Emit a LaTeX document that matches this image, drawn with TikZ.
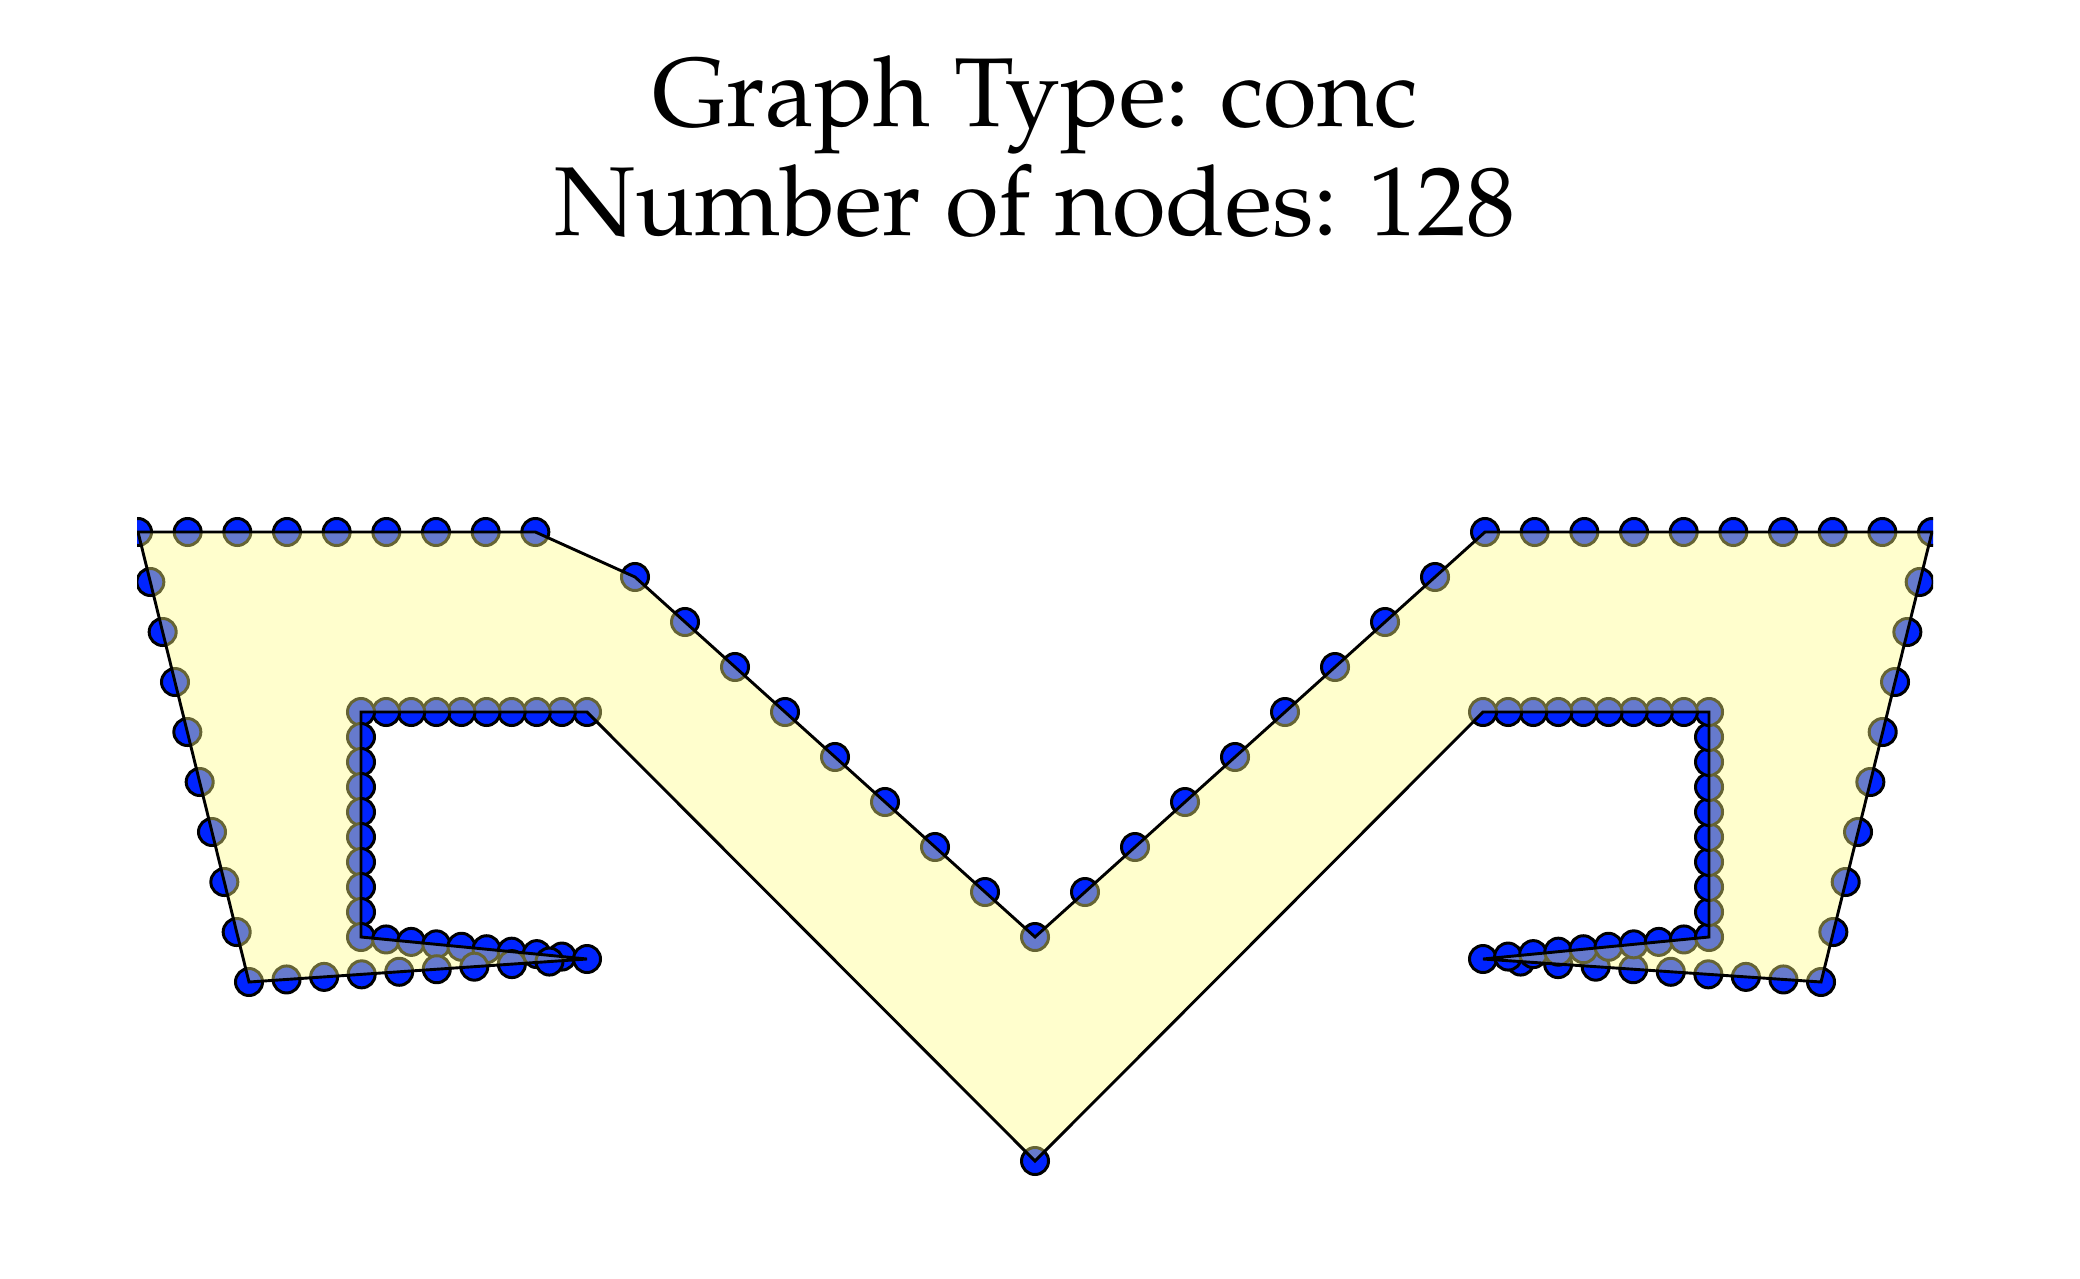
\documentclass[tikz,border=0pt]{standalone}
\usepackage[T1]{fontenc}
\usepackage{mathpazo}
\usetikzlibrary{calc}
\definecolor{nodeblue}{RGB}{0,36,255}
\definecolor{shapefill}{RGB}{255,252,130}
\newcounter{ptc}
\newcommand\subdiv[4]{%
  \foreach \i in {1,...,#4}{%
    \stepcounter{ptc}%
    \edef\pname{p\arabic{ptc}}%
    \coordinate (\pname) at ($(#1)!\i/#3!(#2)$);%
  }}
\tikzset{
  gnode/.style={circle, draw=black, line width=1.5pt, fill=nodeblue, minimum size=13.5pt, inner sep=0pt},
  shapearea/.style={fill=shapefill, fill opacity=0.4},
  outline/.style={draw=black, line width=1.45pt, line join=miter},
  titletext/.style={font=\fontsize{48.9}{58}\selectfont, inner sep=0pt, anchor=base}
}
\begin{document}
\begin{tikzpicture}[x=0.5pt, y=-0.5pt]
\useasboundingbox (0,0) rectangle (2080,1278);
% key points of the outline
\coordinate (A) at (138,532);
\coordinate (K) at (585,532);
\coordinate (Vt) at (1035,937);
\coordinate (KR) at (1485,532);
\coordinate (TR) at (1932,532);
\coordinate (BR) at (1821,982);
\coordinate (tipR) at (1483,959);
\coordinate (IRL) at (1709,937);
\coordinate (IRU) at (1709,712);
\coordinate (IRT) at (1483,712);
\coordinate (Vb) at (1035,1161);
\coordinate (ILT) at (587,712);
\coordinate (ILU) at (361,712);
\coordinate (ILL) at (361,937);
\coordinate (tipL) at (587,959);
\coordinate (BL) at (249,982);
% node positions along the outline
\stepcounter{ptc}\coordinate (p1) at (A);
\subdiv{A}{K}{9}{8}
\subdiv{K}{Vt}{9}{9}
\subdiv{Vt}{KR}{9}{9}
\subdiv{KR}{TR}{9}{9}
\subdiv{TR}{BR}{9}{9}
\subdiv{BR}{tipR}{9}{9}
\subdiv{tipR}{IRL}{9}{9}
\subdiv{IRL}{IRU}{9}{9}
\subdiv{IRU}{IRT}{9}{9}
\subdiv{IRT}{Vb}{1}{1}
\subdiv{Vb}{ILT}{1}{1}
\subdiv{ILT}{ILU}{9}{9}
\subdiv{ILU}{ILL}{9}{9}
\subdiv{ILL}{tipL}{9}{9}
\subdiv{tipL}{BL}{9}{9}
\subdiv{BL}{A}{9}{8}
\begin{scope}
\clip (137,0) rectangle (1933,1278);
\foreach \i in {1,...,127}{\node[gnode] (n\i) at (p\i) {};}
\path[shapearea] (n1.center) \foreach \i in {2,...,127}{ -- (n\i.center)} -- cycle;
\path[outline] (n1.center) \foreach \i in {2,...,127}{ -- (n\i.center)} -- cycle;
\end{scope}
\node[titletext] (title1) at (1035,127) {Graph Type: conc};
\node[titletext] (title2) at (1035,236) {Number of nodes: 128};
\end{tikzpicture}
\end{document}
